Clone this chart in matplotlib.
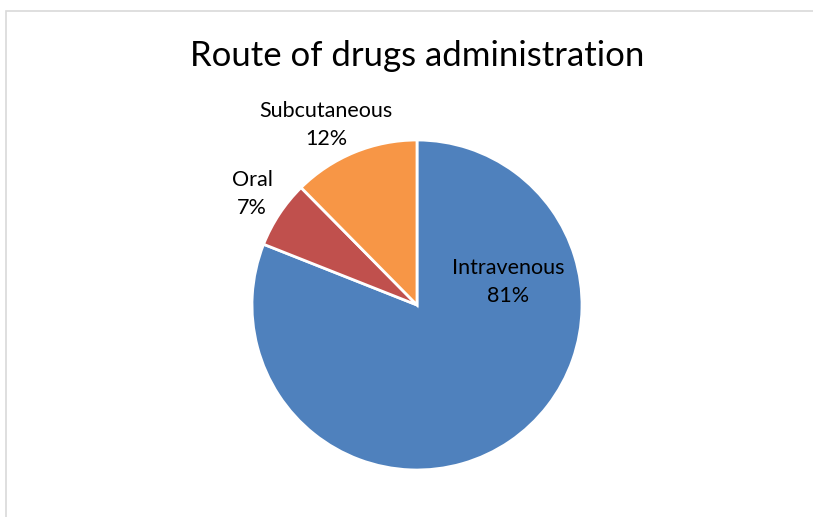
import matplotlib
matplotlib.use("Agg")
import matplotlib.pyplot as plt
from matplotlib.patches import Rectangle

categories = ["Intravenous", "Oral", "Subcutaneous"]
values = [81.0, 6.6, 12.4]
pct_labels = ["81%", "7%", "12%"]
colors = ["#4F81BD", "#C0504D", "#F79646"]
title = "Route of drugs administration"

W, H = 813, 517
fig = plt.figure(figsize=(W / 100, H / 100), dpi=100)
ax = fig.add_axes([0, 0, 1, 1])

font = "Lato"

cx, cy, r = 417, H - 305, 165
ax.pie(values, colors=colors, startangle=90, counterclock=False,
       center=(cx, cy), radius=r, frame=True,
       wedgeprops=dict(edgecolor="white", linewidth=2.0))
ax.set_xlim(0, W)
ax.set_ylim(0, H)
ax.set_aspect("equal")
ax.axis("off")

ax.add_patch(Rectangle((6, -20), W + 40, H - 11 + 20, fill=False,
                       edgecolor="#D9D9D9", linewidth=1.2))

label_pos = [(508, H - 282), (252, H - 194), (326, H - 125)]
for cat, p, (x, y) in zip(categories, pct_labels, label_pos):
    ax.text(x, y, f"{cat}\n{p}", ha="center", va="center", fontsize=15.5,
            family=font, color="#000000", linespacing=1.5)

ax.text(417, H - 56, title, ha="center", va="center", fontsize=25,
        family=font, color="#000000")

fig.savefig("out.png", dpi=100)
